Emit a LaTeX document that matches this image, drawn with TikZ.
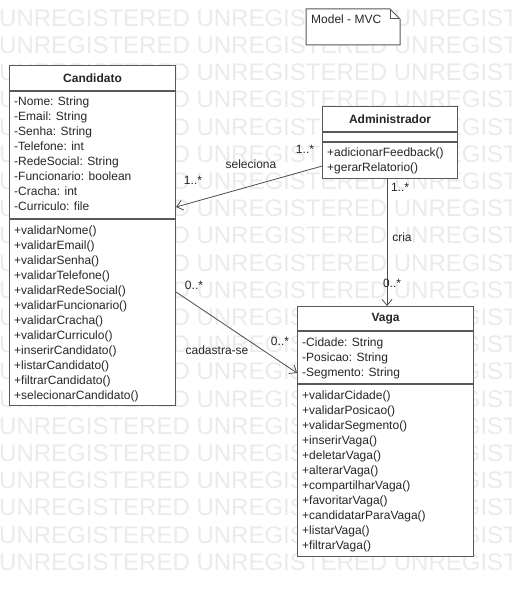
\documentclass[tikz,border=0pt]{standalone}
\usepackage{fontspec}
\setmainfont{Liberation Sans}
\usetikzlibrary{arrows.meta,positioning,calc}

\begin{document}
\begin{tikzpicture}[x=1pt,y=-1pt,
  every node/.style={font=\fontsize{12}{15}\selectfont,text=black!85},
  cls/.style={draw=black!65,fill=white,line width=1.1pt,inner sep=0pt,anchor=north west},
  sep/.style={draw=black!65,line width=1.1pt},
  head/.style={font=\fontsize{12}{15}\selectfont\bfseries},
  rows/.style={align=left,anchor=base west,inner sep=0pt},
  mult/.style={inner sep=0pt},
  assoc/.style={-{Straight Barb[length=6pt,width=10pt]},draw=black!70,line width=0.8pt},
  wm/.style={anchor=west,inner sep=0pt,text=black!8,font=\fontsize{24}{24}\selectfont}]

 \useasboundingbox[fill=white] (0,0) rectangle (511,596);

 % watermark
 \begin{scope}
  \clip (0,0) rectangle (511,596);
  \foreach \r in {0,...,20}
   \node[wm] (wm\r) at (-1,{18+27.2*\r}) {UNREGISTERED UNREGISTERED UNREGISTERED};
 \end{scope}

 % note
 \draw[draw=black!65,fill=white,line width=1pt] (306,9) -- (390,9) -- (400,19) -- (400,45) -- (306,45) -- cycle;
 \draw[draw=black!65,line width=1pt] (390,9) -- (390,19) -- (400,19);
 \node[anchor=west,inner sep=0pt] (note) at (311,19) {Model - MVC};

 % Candidato (multi-line nodes sit on their last baseline)
 \node[cls,minimum width=166,minimum height=340] (cand) at (9,65) {};
 \node[head] (candHead) at ($(cand.north)+(0,13)$) {Candidato};
 \draw[sep] ($(cand.north west)+(0,26)$) -- ($(cand.north east)+(0,26)$);
 \draw[sep] ($(cand.north west)+(0,154)$) -- ($(cand.north east)+(0,154)$);
 \node[rows] (candAttr) at (14,210.5) {-Nome: String\\-Email: String\\-Senha: String\\-Telefone: int\\-RedeSocial: String\\-Funcionario: boolean\\-Cracha: int\\-Curriculo: file};
 \node[rows] (candOps) at (14,399.5) {+validarNome()\\+validarEmail()\\+validarSenha()\\+validarTelefone()\\+validarRedeSocial()\\+validarFuncionario()\\+validarCracha()\\+validarCurriculo()\\+inserirCandidato()\\+listarCandidato()\\+filtrarCandidato()\\+selecionarCandidato()};

 % Administrador
 \node[cls,minimum width=135,minimum height=72] (admin) at (322,106) {};
 \node[head] (adminHead) at ($(admin.north)+(0,13)$) {Administrador};
 \draw[sep] ($(admin.north west)+(0,26)$) -- ($(admin.north east)+(0,26)$);
 \draw[sep] ($(admin.north west)+(0,36)$) -- ($(admin.north east)+(0,36)$);
 \node[rows] (adminOps) at (327,171.5) {+adicionarFeedback()\\+gerarRelatorio()};

 % Vaga
 \node[cls,minimum width=176,minimum height=250] (vaga) at (297,306) {};
 \node[head] (vagaHead) at ($(vaga.north)+(0,13)$) {Vaga};
 \draw[sep] ($(vaga.north west)+(0,25)$) -- ($(vaga.north east)+(0,25)$);
 \draw[sep] ($(vaga.north west)+(0,78)$) -- ($(vaga.north east)+(0,78)$);
 \node[rows] (vagaAttr) at (302,376.5) {-Cidade: String\\-Posicao: String\\-Segmento: String};
 \node[rows] (vagaOps) at (302,549.5) {+validarCidade()\\+validarPosicao()\\+validarSegmento()\\+inserirVaga()\\+deletarVaga()\\+alterarVaga()\\+compartilharVaga()\\+favoritarVaga()\\+candidatarParaVaga()\\+listarVaga()\\+filtrarVaga()};

 % associations
 \coordinate (criaTop) at ($(admin.south)+(-3,0)$);
 \coordinate (criaEnd) at (criaTop |- vaga.north);
 \draw[assoc] ($(admin.south west)+(0,-13)$) -- ($(cand.north east)+(0,142)$);
 \draw[assoc] (criaTop) -- (criaEnd);
 \draw[assoc] ($(cand.north east)+(0,227)$) -- ($(vaga.north west)+(0,67)$);

 % labels
 \node[mult] (selA) at (305,149) {1..*};
 \node[mult] (selName) at (251,164) {seleciona};
 \node[mult] (selC) at (193,180) {1..*};
 \node[mult] (criaA) at (400,187) {1..*};
 \node[mult] (criaName) at (402,237) {cria};
 \node[mult] (criaV) at (392,283) {0..*};
 \node[mult] (cadC) at (194,285) {0..*};
 \node[mult] (cadName) at (217,350) {cadastra-se};
 \node[mult] (cadV) at (280,341) {0..*};
\end{tikzpicture}
\end{document}
